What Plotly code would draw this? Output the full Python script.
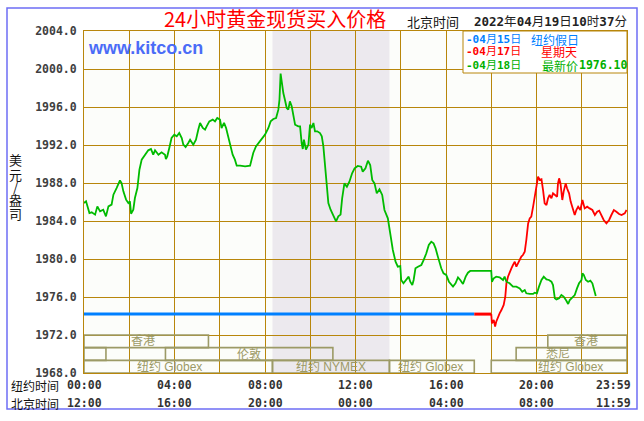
import plotly.graph_objects as go

# ---------------- data (hours in New York time, price USD/oz) ----------------
green_h = [0, 0.09, 0.24, 0.34, 0.49, 0.59, 0.71, 0.85, 0.97, 1.08, 1.22, 1.30, 1.44, 1.59, 1.66,
           1.74, 1.86, 1.96, 2.03, 2.08, 2.18, 2.25, 2.36, 2.45, 2.55, 2.70, 2.84, 2.96, 3.06, 3.14,
           3.29, 3.43, 3.58, 3.62, 3.68, 3.77, 3.87, 3.99, 4.10, 4.21, 4.32, 4.39, 4.49, 4.61, 4.69,
           4.83, 4.95, 5.05, 5.13, 5.25, 5.35, 5.42, 5.54, 5.69, 5.79, 5.89, 6.01, 6.08, 6.19, 6.28,
           6.38, 6.48, 6.57, 6.67, 6.75, 6.90, 7.12, 7.34, 7.41, 7.48, 7.60, 7.78, 7.90, 8.00, 8.15,
           8.25, 8.37, 8.49, 8.59, 8.64, 8.69, 8.74, 8.81, 8.88, 8.96, 9.03, 9.10, 9.18, 9.25, 9.33,
           9.47, 9.55, 9.62, 9.67, 9.72, 9.81, 9.92, 9.99, 10.06, 10.14, 10.21, 10.31, 10.43, 10.51,
           10.58, 10.65, 10.73, 10.80, 10.90, 11.02, 11.14, 11.24, 11.34,
           11.41, 11.51, 11.62, 11.73, 11.85, 11.96, 12.10, 12.25, 12.32, 12.44, 12.55, 12.65, 12.74,
           12.84, 12.94, 13.06, 13.18, 13.28, 13.43, 13.50, 13.58, 13.65, 13.77, 13.87, 13.98, 14.02,
           14.12, 14.24, 14.35, 14.42, 14.51, 14.57, 14.65, 14.76, 14.91, 15.01, 15.13, 15.24, 15.35,
           15.45, 15.54, 15.64, 15.79, 15.89, 16.01, 16.13, 16.31, 16.42, 16.53, 16.63, 16.75, 16.87,
           16.97, 17.07, 18.00, 18.03, 18.11, 18.22, 18.37, 18.52, 18.59, 18.67, 18.81, 18.96, 19.11,
           19.26, 19.37, 19.48, 19.55, 19.70, 19.85, 19.92, 20.02, 20.11, 20.22, 20.32, 20.44, 20.55,
           20.66, 20.73, 20.81, 20.88, 21.00, 21.10, 21.20, 21.32, 21.40, 21.47, 21.59, 21.69, 21.79,
           21.88, 21.99, 22.03, 22.09, 22.18, 22.28, 22.38, 22.47, 22.53, 22.62]
green_p = [1985.89, 1986.07, 1984.84, 1984.91, 1984.67, 1985.54, 1985.02, 1985.19, 1984.49, 1985.54,
           1985.72, 1986.77, 1987.47, 1988.28, 1988.00, 1987.12, 1986.25, 1985.89, 1986.07, 1984.77,
           1985.19, 1986.42, 1987.47, 1989.40, 1990.46, 1990.98, 1991.44, 1991.58, 1990.98, 1991.44,
           1990.98, 1991.23, 1990.98, 1990.53, 1990.81, 1991.68, 1992.74, 1993.09, 1992.91, 1993.26,
           1992.74, 1992.04, 1991.79, 1992.21, 1992.56, 1992.04, 1992.56, 1993.61, 1994.32, 1993.79,
           1993.61, 1993.96, 1994.49, 1994.67, 1994.49, 1994.84, 1994.67, 1993.79, 1994.32, 1993.79,
           1992.91, 1992.04, 1990.98, 1990.46, 1989.82, 1989.82, 1989.75, 1989.82, 1990.46, 1991.16,
           1991.86, 1992.39, 1992.74, 1993.09, 1993.79, 1994.49, 1994.74, 1994.84, 1995.72, 1996.77,
           1999.51, 1998.53, 1997.47, 1996.77, 1995.89, 1995.72, 1996.60, 1996.07, 1995.02, 1994.14,
           1993.96, 1993.96, 1992.21, 1991.58, 1992.56, 1991.51, 1992.04, 1994.14, 1993.79, 1994.32,
           1993.44, 1993.44, 1993.26, 1992.91, 1991.86, 1989.75, 1987.93, 1985.89, 1985.19, 1984.56,
           1983.96, 1984.49, 1984.67,
           1986.39, 1987.96, 1987.61, 1988.14, 1989.02, 1989.54, 1989.79, 1989.72, 1989.19, 1989.54,
           1990.35, 1989.89, 1988.32, 1987.96, 1986.91, 1987.33, 1986.74, 1985.16, 1984.28, 1983.23,
           1982.00, 1980.95, 1979.72, 1979.19, 1979.26, 1977.79, 1977.44, 1977.79, 1978.14, 1977.61,
           1977.26, 1977.79, 1979.02, 1979.19, 1979.37, 1979.89, 1980.60, 1981.47, 1981.82, 1981.65,
           1981.12, 1980.25, 1979.02, 1978.49, 1978.32, 1977.61, 1977.09, 1977.44, 1978.07, 1977.79,
           1977.37, 1978.14, 1978.56, 1978.74, 1978.74, 1977.61, 1977.96, 1978.14, 1978.07, 1977.79,
           1978.14, 1977.61, 1977.44, 1977.09, 1977.09, 1976.91, 1976.56, 1976.74, 1976.39, 1976.32,
           1976.32, 1976.46, 1976.39, 1977.09, 1977.79, 1978.14, 1977.86, 1977.79, 1977.61, 1977.26,
           1975.86, 1975.75, 1975.86, 1976.21, 1976.04, 1975.61, 1975.26, 1975.68, 1975.96, 1976.21,
           1976.91, 1977.44, 1977.79, 1978.49, 1978.32, 1977.79, 1977.61, 1977.72, 1977.44, 1976.91,
           1976.10]

red_flat_h = [17.25, 18.0]
red_flat_p = [1974.2, 1974.2]
red_h = [18.00, 18.03, 18.11, 18.17, 18.22, 18.30, 18.37, 18.45, 18.55, 18.62, 18.67, 18.74, 18.81,
         18.89, 18.96, 19.04, 19.11, 19.18, 19.26, 19.33, 19.40, 19.48, 19.55, 19.63, 19.70, 19.77,
         19.85, 19.92, 19.99, 20.07, 20.14, 20.22, 20.29, 20.36, 20.44, 20.51, 20.58, 20.66, 20.73,
         20.81, 20.91, 20.95, 21.00, 21.06, 21.14, 21.20, 21.29, 21.35, 21.44, 21.51, 21.59, 21.69,
         21.76, 21.84, 21.94, 22.03, 22.13, 22.24, 22.35, 22.47, 22.58, 22.68, 22.77, 22.87, 22.97,
         23.09, 23.21, 23.31, 23.42, 23.53, 23.65, 23.76, 23.90, 23.98]
red_p = [1974.21, 1973.23, 1973.58, 1972.88, 1973.40, 1973.93, 1974.28, 1974.63, 1975.16, 1976.04,
         1977.44, 1978.14, 1978.67, 1979.02, 1979.37, 1979.72, 1979.19, 1979.54, 1979.89, 1980.25,
         1980.42, 1980.77, 1982.00, 1983.75, 1984.28, 1984.46, 1985.51, 1986.39, 1987.26, 1988.67,
         1988.32, 1988.39, 1987.26, 1985.86, 1985.68, 1986.39, 1986.74, 1986.39, 1986.91, 1986.74,
         1986.56, 1987.96, 1988.49, 1987.96, 1986.21, 1987.09, 1987.96, 1987.44, 1986.91, 1986.04,
         1985.51, 1984.63, 1985.16, 1985.51, 1985.16, 1986.21, 1985.33, 1985.51, 1985.33, 1985.16,
         1984.63, 1984.98, 1985.09, 1984.63, 1984.11, 1983.75, 1984.11, 1984.63, 1985.16, 1984.98,
         1984.74, 1984.63, 1984.81, 1985.16]

blue_h = [0.0, 17.25]
blue_p = [1974.2, 1974.2]

y_ticks = [1968, 1972, 1976, 1980, 1984, 1988, 1992, 1996, 2000, 2004]
x_tick_hours = [0, 4, 8, 12, 16, 20, 24]
ny_labels = ["00:00", "04:00", "08:00", "12:00", "16:00", "20:00", "23:59"]
bj_labels = ["12:00", "16:00", "20:00", "00:00", "04:00", "08:00", "11:59"]

# market sessions: name, start hour, end hour, row (0 = top), label position (hour)
sess_names = ["香港", "", "伦敦", "纽约 Globex", "纽约 NYMEX", "纽约 Globex", "纽约 Globex", "悉尼", "香港"]
sess_start = [0.0, 0.0, 3.6, 0.0, 8.33, 13.5, 18.0, 19.1, 20.5]
sess_end = [5.5, 0.97, 11.0, 8.33, 13.5, 17.25, 24.0, 24.0, 24.0]
sess_row = [0, 1, 1, 2, 2, 2, 2, 1, 0]
sess_label_h = [2.6, 0.5, 7.3, 3.8, 10.9, 15.3, 21.5, 20.95, 22.2]
nymex_shade = (8.33, 13.5)

legend_dates = ["-04月15日", "-04月17日", "-04月18日"]
legend_notes = ["纽约假日", "星期天", "最新价"]

# ---------------- styling ----------------
W, H = 644, 421
L, R, T, B = 84, 627, 31, 373
GOLD = "#B8860B"
OLIVE = "#9C9A66"
GREEN = "#00BB00"
RED = "#FF0000"
BLUE = "#0080FF"
MONO = "DejaVu Sans Mono"
CJK = "Noto Sans CJK SC"


def px(xp):
    return (xp - L) / (R - L)


def py(yp):
    return (B - yp) / (B - T)


def note(xp, yp, text, font, xanchor="center"):
    return dict(x=px(xp), y=py(yp), xref="paper", yref="paper", xanchor=xanchor, yanchor="middle",
                showarrow=False, text=text, font=font)


fig = go.Figure()
fig.add_trace(go.Scatter(x=blue_h, y=blue_p, mode="lines", line=dict(color=BLUE, width=3), hoverinfo="skip"))
fig.add_trace(go.Scatter(x=red_flat_h, y=red_flat_p, mode="lines", line=dict(color=RED, width=3), hoverinfo="skip"))
fig.add_trace(go.Scatter(x=red_h, y=red_p, mode="lines", line=dict(color=RED, width=1.8), hoverinfo="skip"))
fig.add_trace(go.Scatter(x=green_h, y=green_p, mode="lines", line=dict(color=GREEN, width=1.8), hoverinfo="skip"))

shapes = []
# NYMEX shaded area
shapes.append(dict(type="rect", xref="x", yref="y", x0=nymex_shade[0], x1=nymex_shade[1],
                   y0=y_ticks[0], y1=y_ticks[-1], fillcolor="#ECE9EE", line=dict(width=0), layer="below"))
# session boxes
row_h = (y_ticks[1] - y_ticks[0]) / 3.0
annotations = []
for name, s, e, r, lh in zip(sess_names, sess_start, sess_end, sess_row, sess_label_h):
    top = y_ticks[1] - r * row_h
    shapes.append(dict(type="rect", xref="x", yref="y", x0=s, x1=e, y0=top - row_h, y1=top,
                       line=dict(color=OLIVE, width=1.6), layer="between"))
    if name:
        annotations.append(dict(x=lh, y=top - row_h / 2, xref="x", yref="y", text=name, showarrow=False,
                                xanchor="center", yanchor="middle",
                                font=dict(family="Liberation Sans, " + CJK, size=12, color=OLIVE)))
# legend box
shapes.append(dict(type="rect", xref="paper", yref="paper", x0=px(463), x1=1.0, y0=py(73), y1=1.0,
                   fillcolor="white", line=dict(color=GOLD, width=1), layer="above"))
# outer frame
shapes.append(dict(type="rect", xref="paper", yref="paper", x0=px(7), x1=px(637), y0=py(409), y1=py(8),
                   line=dict(color="#6E6EF5", width=1.5), layer="above"))

# legend texts
leg_colors = [BLUE, RED, "#00B000"]
leg_rows = [39, 52, 65]
note_x = [529, 539, 540]
for d, n, c, yy, nx in zip(legend_dates, legend_notes, leg_colors, leg_rows, note_x):
    annotations.append(note(464, yy, "<b>" + d.replace("月", "</b>月<b>").replace("日", "</b>日"),
                            dict(family=MONO + ", " + CJK, size=11, color=c), "left"))
    annotations.append(note(nx, yy, n, dict(family=CJK, size=12, color=c), "left"))
annotations.append(note(577, 65, "<b>%.2f</b>" % green_p[-1], dict(family=MONO, size=11.5, color="#00B000"), "left"))

# title and time stamp
annotations.append(note(275, 19, "24小时黄金现货买入价格", dict(family=CJK, size=20, color=RED)))
annotations.append(note(433, 22, "北京时间", dict(family=CJK, size=13, color="#111111")))
annotations.append(note(550, 22, "<b>2022</b>年<b>04</b>月<b>19</b>日<b>10</b>时<b>37</b>分",
                        dict(family=MONO + ", " + CJK, size=12.5, color="#222222")))
# watermark
annotations.append(note(86, 48, "<b>www.kitco.cn</b>", dict(family="Liberation Sans", size=18, color="#4A6CF7"),
                        "left"))
# y axis title (vertical, stacked)
for ch, yy in zip(["美", "元", "/", "盎", "司"], [160, 174, 186, 200, 213]):
    annotations.append(note(16, yy, ch, dict(family=CJK, size=13, color="#111111")))
# time axis labels
annotations.append(note(35, 385, "纽约时间", dict(family=CJK, size=12, color="#111111")))
annotations.append(note(35, 403, "北京时间", dict(family=CJK, size=12, color="#111111")))
for hh, ny, bj in zip(x_tick_hours, ny_labels, bj_labels):
    last = hh == x_tick_hours[-1]
    for lab, yy in ((ny, 385), (bj, 403)):
        annotations.append(dict(x=hh, y=py(yy), xref="x", yref="paper", showarrow=False,
                                xanchor="right" if last else "center", yanchor="middle",
                                xshift=6 if last else 0, text="<b>" + lab + "</b>",
                                font=dict(family=MONO, size=11.5, color="#333333")))

fig.update_layout(
    width=W, height=H,
    margin=dict(l=L, r=W - R, t=T, b=H - B, pad=0),
    paper_bgcolor="white", plot_bgcolor="#FCFDFA",
    showlegend=False,
    shapes=shapes, annotations=annotations,
    xaxis=dict(range=[0, 24], dtick=2, tick0=0, showgrid=True, gridcolor=GOLD, gridwidth=1,
               showticklabels=False, zeroline=False, showline=True, mirror=True, linecolor=GOLD, linewidth=1,
               fixedrange=True),
    yaxis=dict(range=[y_ticks[0], y_ticks[-1]], tickvals=y_ticks, tickformat=".1f", showgrid=True,
               gridcolor=GOLD, gridwidth=1, zeroline=False, showline=True, mirror=True, linecolor=GOLD,
               linewidth=1, ticks="outside", ticklen=4, tickcolor="rgba(0,0,0,0)",
               tickfont=dict(family=MONO, size=11.5, color="#404040", weight="bold"), fixedrange=True),
)

fig.write_html("out.html", config={"displayModeBar": False, "staticPlot": True},
               post_script="document.body.style.margin='0';document.body.style.overflow='hidden';")
